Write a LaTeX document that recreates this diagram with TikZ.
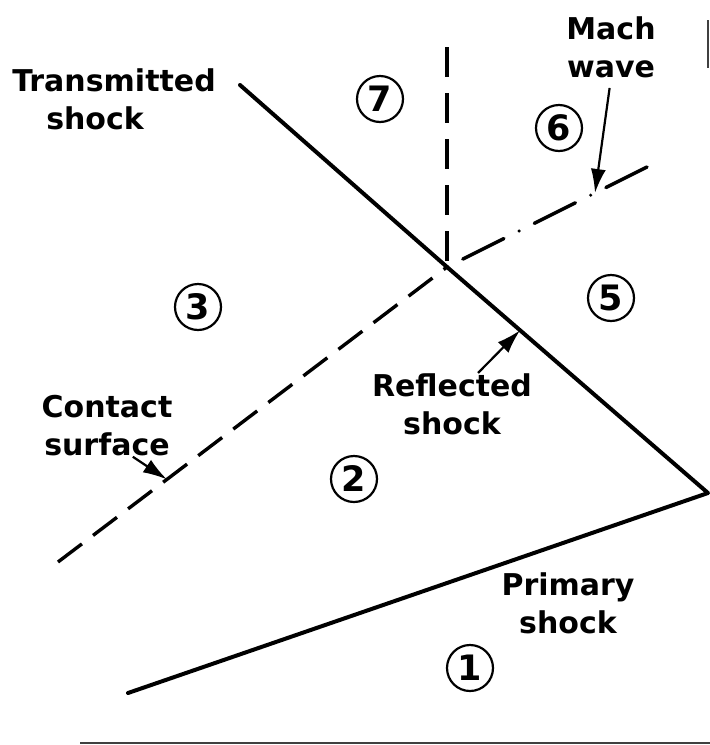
\documentclass[tikz,border=0pt]{standalone}
\usepackage{fontspec}
\setmainfont{DejaVu Sans}
\usetikzlibrary{arrows.meta,calc}
\tikzset{
  shockline/.style={line width=2pt,line cap=round,line join=round},
  contactline/.style={line width=1.7pt,dash pattern=on 15pt off 7pt},
  slipline/.style={line width=1.7pt,dash pattern=on 15pt off 8pt},
  machline/.style={line width=1.7pt,line cap=round,dash pattern=on 23pt off 8.5pt on 0pt off 8.5pt},
  region/.style={circle,draw,line width=1.1pt,minimum size=23pt,inner sep=0pt,font=\fontsize{17.5}{17.5}\selectfont\bfseries},
  lbl/.style={align=center,inner sep=0pt,font=\fontsize{15}{19}\selectfont\bfseries},
  pointer/.style={-{Latex[length=12pt,width=7.5pt]},line width=1.1pt},
  scanedge/.style={line width=1pt,draw=black!75}
}

\begin{document}
\begin{tikzpicture}[x=.5pt,y=-.5pt]
  \useasboundingbox (0,0) rectangle (710,745);
  \coordinate (T) at (240,85);
  \coordinate (I) at (447,267);
  \coordinate (R) at (708,493);
  \coordinate (P) at (128,693);
  \coordinate (V) at (447,47);
  \coordinate (M) at (647,167);
  \coordinate (C) at (58,562);
  \coordinate (mw) at ($(I)!.74!(M)$);
  \coordinate (rs) at ($(I)!.28!(R)$);
  \coordinate (cs) at ($(I)!.72!(C)$);

  \node[region] (n1) at (470,668) {1};
  \node[region] (n2) at (354,479) {2};
  \node[region] (n3) at (198,307) {3};
  \node[region] (n5) at (611,298) {5};
  \node[region] (n6) at (559,128) {6};
  \node[region] (n7) at (380,99) {7};

  \node[lbl,align=left] (trans) at (114,99) {Transmitted\\\hspace*{17pt}shock};
  \node[lbl] (mach) at (611,47) {Mach\\wave};
  \node[lbl] (cont) at (107,426) {Contact\\surface};
  \node[lbl] (refl) at (452,404) {Reflected\\shock};
  \node[lbl] (prim) at (568,603) {Primary\\shock};

  \draw[shockline] (T) -- (I) -- (R) -- (P);
  \draw[slipline] (V) -- (I);
  \draw[contactline] (C) -- (I);
  \draw[machline] (M) -- (I);

  \draw[pointer,shorten <=5pt] (mach.south) -- (mw);
  \draw[pointer] (refl.50) -- (rs);
  \draw[pointer] (cont.-50) -- (cs);

  \draw[scanedge] (80,743) -- (710,743);
  \draw[scanedge] (708,20) -- (708,68);
\end{tikzpicture}
\end{document}
